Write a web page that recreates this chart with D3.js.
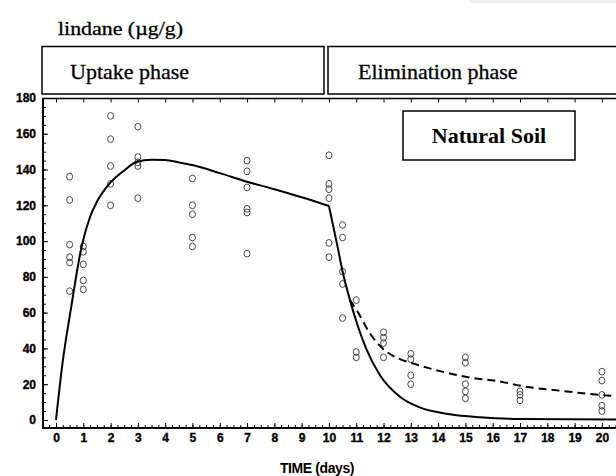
<!DOCTYPE html>
<html>
<head>
<meta charset="utf-8">
<script src="https://cdn.jsdelivr.net/npm/d3@7/dist/d3.min.js"></script>
<style>
  html, body { margin: 0; padding: 0; background: #fff; }
  svg { display: block; }
</style>
</head>
<body>
<svg id="chart" width="616" height="476"></svg>
<script>
// ---- data ----
const sampleDays = [0.5, 1, 2, 3, 5, 7, 10, 10.5, 11, 12, 13, 15, 17, 20];
const sampleValues = [
  [136, 123, 98, 91, 88, 72],
  [97, 94, 87, 78, 73],
  [170, 157, 142, 132, 120],
  [164, 147, 144, 142, 124],
  [135, 120, 115, 102, 97],
  [145, 139, 130, 118, 116, 93],
  [148, 132, 129, 124, 99, 91],
  [109, 102, 83, 76, 57],
  [67, 38, 35],
  [49, 46, 43, 35],
  [37, 34, 25, 20],
  [35, 32, 20, 16, 12],
  [16, 14, 11],
  [27, 22, 14, 8, 5]
];
const uptakeDays   = [0, 0.25, 0.54, 0.94, 1.25, 1.5, 1.92, 2.5, 2.96, 3.5, 4, 4.5, 5, 6, 7, 8, 9, 10];
const uptakeValues = [0, 33, 61.5, 97, 113.6, 122, 131.4, 139.5, 144.4, 145.5, 145.3, 144, 142.5, 138, 133.2, 129, 124.5, 119.6];
const elimDays     = [10, 10.3, 10.5, 10.77, 11.07, 11.36, 11.87, 12.6, 13.33, 14.43, 15.53, 17, 20.7];
const elimValues   = [119.6, 98, 83, 67, 52, 40, 25, 13, 7, 3.2, 1.5, 0.5, 0.2];
const dashDays     = [10.77, 11.07, 11.5, 12, 12.6, 13.1, 14.07, 15.05, 16.3, 17.06, 18.5, 19.93, 20.7];
const dashValues   = [67, 60, 48.4, 39.5, 34, 31.5, 27.3, 24, 21.4, 19, 16.3, 14, 13.2];
const xTickLabels  = d3.range(0, 21);
const yTickLabels  = d3.range(0, 181, 20);
const yAxisTitle = "lindane (µg/g)";
const xAxisTitle = "TIME (days)";
const phaseLabels = ["Uptake phase", "Elimination phase"];
const soilLabel = "Natural Soil";

// ---- drawing ----
const svg = d3.select("#chart");
svg.append("rect").attr("width", 616).attr("height", 476).attr("fill", "#fff");
svg.append("rect").attr("x", 470).attr("y", 0).attr("width", 146).attr("height", 3).attr("fill", "#ececec");

const x = d3.scaleLinear().domain([-0.476, 20.7]).range([43, 621]);
const y = d3.scaleLinear().domain([-4.5, 180]).range([428, 98]);

const serif = "'Liberation Serif', 'Times New Roman', serif";
const sans = "'Liberation Sans', Arial, sans-serif";

// y title
svg.append("text").attr("x", 58).attr("y", 35)
  .attr("font-family", serif).attr("font-size", 19).attr("fill", "#000")
  .attr("stroke", "#000").attr("stroke-width", 0.3)
  .attr("textLength", 125).attr("lengthAdjust", "spacingAndGlyphs")
  .text(yAxisTitle);

// phase boxes
const boxes = [{x0: 42, x1: 324, tx: 70}, {x0: 328, x1: 640, tx: 358}];
boxes.forEach((b, i) => {
  svg.append("rect").attr("x", b.x0).attr("y", 46.5).attr("width", b.x1 - b.x0).attr("height", 47.5)
    .attr("fill", "none").attr("stroke", "#000").attr("stroke-width", 1.5);
  svg.append("text").attr("x", b.tx).attr("y", 79)
    .attr("font-family", serif).attr("font-size", 22).attr("fill", "#000")
    .attr("stroke", "#000").attr("stroke-width", 0.3)
    .text(phaseLabels[i]);
});

// plot frame
svg.append("line").attr("x1", 43).attr("x2", 616).attr("y1", 98.5).attr("y2", 98.5)
  .attr("stroke", "#000").attr("stroke-width", 1.5);

// minor ticks x
const g = svg.append("g");
g.append("g").attr("transform", "translate(0,428)")
  .call(d3.axisBottom(x).tickValues(d3.range(-0.25, 20.6, 0.25)).tickSize(-3).tickFormat(""))
  .call(s => s.select(".domain").remove())
  .call(s => s.selectAll("line").attr("stroke", "#000"));
// major x ticks & labels
g.append("g").attr("transform", "translate(0,428)")
  .call(d3.axisBottom(x).tickValues(xTickLabels).tickSize(-5).tickPadding(5).tickFormat(d3.format("d")))
  .call(s => s.select(".domain").remove())
  .call(s => s.selectAll("line").attr("stroke", "#000"))
  .call(s => s.selectAll("text").attr("font-family", sans).attr("font-weight", "bold")
    .attr("font-size", 12).attr("fill", "#000").attr("stroke", "#000").attr("stroke-width", 0.35));
// top ticks
g.append("g").attr("transform", "translate(0,98.5)")
  .call(d3.axisTop(x).tickValues(xTickLabels).tickSize(-4).tickFormat(""))
  .call(s => s.select(".domain").remove())
  .call(s => s.selectAll("line").attr("stroke", "#000"));
// minor y ticks
g.append("g").attr("transform", "translate(43,0)")
  .call(d3.axisLeft(y).tickValues(d3.range(0, 181, 5)).tickSize(-3).tickFormat(""))
  .call(s => s.select(".domain").remove())
  .call(s => s.selectAll("line").attr("stroke", "#000"));
// major y ticks & labels
g.append("g").attr("transform", "translate(43,0)")
  .call(d3.axisLeft(y).tickValues(yTickLabels).tickSize(-5).tickPadding(7).tickFormat(d3.format("d")))
  .call(s => s.select(".domain").remove())
  .call(s => s.selectAll("line").attr("stroke", "#000"))
  .call(s => s.selectAll("text").attr("font-family", sans).attr("font-weight", "bold")
    .attr("font-size", 12).attr("fill", "#000").attr("stroke", "#000").attr("stroke-width", 0.35));

// axis lines
svg.append("line").attr("x1", 43).attr("x2", 616).attr("y1", 428).attr("y2", 428)
  .attr("stroke", "#000").attr("stroke-width", 2);
svg.append("line").attr("x1", 43).attr("x2", 43).attr("y1", 98).attr("y2", 429)
  .attr("stroke", "#000").attr("stroke-width", 2);

// x title
svg.append("text").attr("x", 317).attr("y", 473).attr("text-anchor", "middle")
  .attr("font-family", sans).attr("font-weight", "bold").attr("font-size", 14)
  .attr("letter-spacing", -0.4).attr("fill", "#000").text(xAxisTitle);

// Natural soil box
svg.append("rect").attr("x", 403).attr("y", 111).attr("width", 172).attr("height", 49)
  .attr("fill", "#fff").attr("stroke", "#000").attr("stroke-width", 1.5);
svg.append("text").attr("x", 489).attr("y", 143).attr("text-anchor", "middle")
  .attr("font-family", serif).attr("font-weight", "bold").attr("font-size", 22).attr("fill", "#000")
  .text(soilLabel);

// points
const pts = [];
sampleDays.forEach((d, i) => sampleValues[i].forEach(v => pts.push([d, v])));
svg.append("g").selectAll("ellipse").data(pts).join("ellipse")
  .attr("cx", d => x(d[0])).attr("cy", d => y(d[1]))
  .attr("rx", 3).attr("ry", 3.4)
  .attr("fill", "none").attr("stroke", "#333").attr("stroke-width", 0.9);

// curves
const line = d3.line().x(d => x(d[0])).y(d => y(d[1])).curve(d3.curveMonotoneX);
svg.append("path").datum(uptakeDays.map((d, i) => [d, uptakeValues[i]]))
  .attr("d", line).attr("fill", "none").attr("stroke", "#000").attr("stroke-width", 2);
svg.append("path").datum(elimDays.map((d, i) => [d, elimValues[i]]))
  .attr("d", line).attr("fill", "none").attr("stroke", "#000").attr("stroke-width", 2);
svg.append("path").datum(dashDays.map((d, i) => [d, dashValues[i]]))
  .attr("d", line).attr("fill", "none").attr("stroke", "#000").attr("stroke-width", 2)
  .attr("stroke-dasharray", "8,5");
</script>
</body>
</html>
